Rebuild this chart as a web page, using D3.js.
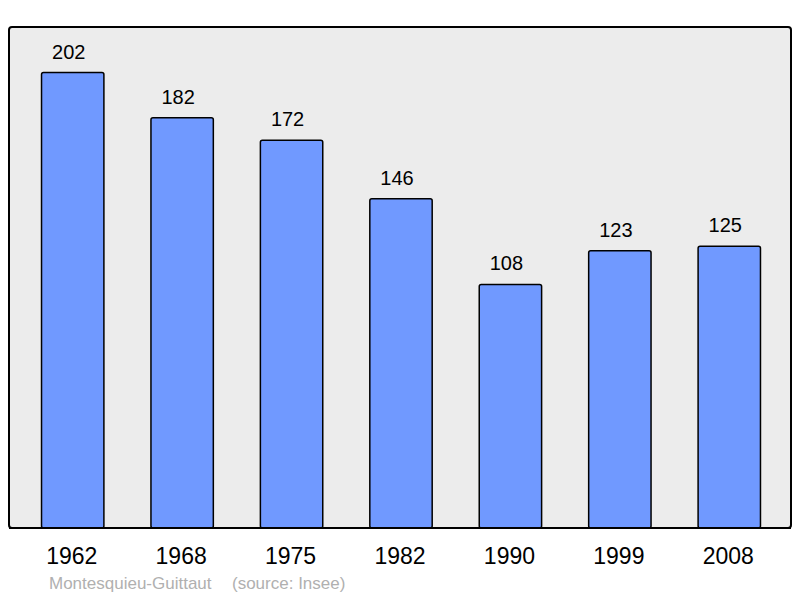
<!DOCTYPE html>
<html>
<head>
<meta charset="utf-8">
<script src="https://cdn.jsdelivr.net/npm/d3@7"></script>
<style>
  body { margin: 0; background: #fff; }
  text { font-family: "Liberation Sans", Arial, sans-serif; }
</style>
</head>
<body>
<div class="chart"></div>
<script>
var years = ["1962", "1968", "1975", "1982", "1990", "1999", "2008"];
var population = [202, 182, 172, 146, 108, 123, 125];
var place = "Montesquieu-Guittaut";
var source = "(source: Insee)";

var width = 800, height = 598;
var frame = { left: 9, top: 27, right: 791, bottom: 528 };

var svg = d3.select('.chart')
    .append('svg')
    .attr('width', width)
    .attr('height', height);

svg.append('rect')
    .attr('x', frame.left)
    .attr('y', frame.top)
    .attr('width', frame.right - frame.left)
    .attr('height', frame.bottom - frame.top)
    .attr('rx', 3)
    .attr('fill', '#ececec')
    .attr('stroke', '#000')
    .attr('stroke-width', 2);

var xScale = d3.scaleBand()
    .domain(years)
    .range([18, 784])
    .paddingInner(0.43)
    .paddingOuter(0.215);

var yScale = d3.scaleLinear()
    .domain([0, d3.max(population) * 1.1])
    .range([frame.bottom, frame.top]);

var data = years.map(function (y, i) {
    return { year: y, value: population[i] };
});

svg.selectAll('rect.bar')
    .data(data)
    .enter()
    .append('rect')
    .attr('class', 'bar')
    .attr('x', function (d) { return xScale(d.year); })
    .attr('y', function (d) { return yScale(d.value); })
    .attr('width', xScale.bandwidth())
    .attr('height', function (d) { return frame.bottom - yScale(d.value); })
    .attr('rx', 2)
    .attr('fill', '#7099ff')
    .attr('stroke', '#000')
    .attr('stroke-width', 1.5);

svg.selectAll('text.value')
    .data(data)
    .enter()
    .append('text')
    .attr('class', 'value')
    .attr('x', function (d) { return xScale(d.year) + xScale.bandwidth() / 2 - 4; })
    .attr('y', function (d) { return yScale(d.value) - 14; })
    .attr('text-anchor', 'middle')
    .attr('font-size', 20)
    .attr('fill', '#000')
    .text(function (d) { return d.value; });

// redraw frame bottom line over bars
svg.append('line')
    .attr('x1', frame.left)
    .attr('x2', frame.right)
    .attr('y1', frame.bottom)
    .attr('y2', frame.bottom)
    .attr('stroke', '#000')
    .attr('stroke-width', 2);

var xAxis = d3.axisBottom(xScale).tickSize(0).tickPadding(0);
var axisG = svg.append('g')
    .attr('transform', 'translate(0,' + frame.bottom + ')')
    .call(xAxis);
axisG.select('.domain').remove();
axisG.selectAll('text')
    .attr('font-size', 23)
    .attr('font-family', '"Liberation Sans", Arial, sans-serif')
    .attr('fill', '#000')
    .attr('dy', 0)
    .attr('x', -1)
    .attr('y', 36);

svg.append('text')
    .attr('x', 49)
    .attr('y', 589)
    .attr('font-size', 17)
    .attr('fill', '#b0b0b0')
    .text(place);

svg.append('text')
    .attr('x', 232)
    .attr('y', 589)
    .attr('font-size', 17)
    .attr('fill', '#b0b0b0')
    .text(source);
</script>
</body>
</html>
